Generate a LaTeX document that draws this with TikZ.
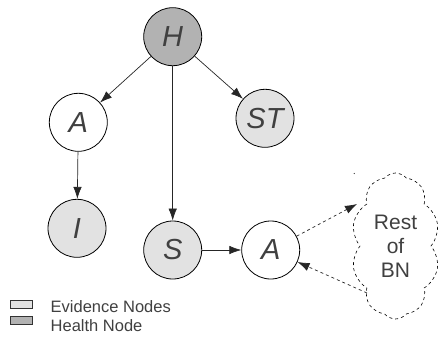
\documentclass[tikz,border=0pt]{standalone}
\usepackage{fontspec}
\setmainfont{Liberation Sans}
\usetikzlibrary{arrows.meta,shapes.symbols}
\definecolor{txt}{HTML}{404040}
\definecolor{evid}{HTML}{E2E2E2}
\definecolor{health}{HTML}{B2B2B2}
\begin{document}
\begin{tikzpicture}[x=1pt,y=-1pt,
  bn/.style={circle,draw=black,line width=0.8pt,minimum size=58pt,inner sep=0pt,
    font=\fontsize{29}{29}\selectfont\itshape,text=txt},
  evnode/.style={bn,fill=evid},
  hnode/.style={bn,fill=health},
  plainnode/.style={bn,fill=white},
  edge/.style={draw=black!85,line width=0.7pt,-{Latex[length=12pt,width=8.5pt]}},
  dedge/.style={edge,dashed},
  legbox/.style={draw=black!80,line width=0.6pt,minimum width=22pt,minimum height=7.5pt,inner sep=0pt},
  legtext/.style={anchor=west,inner sep=0pt,text=txt,font=\fontsize{16.5}{16.5}\selectfont},
  cloudnode/.style={cloud,cloud puffs=10,cloud puff arc=100,cloud ignores aspect,draw=black,dashed,line width=0.6pt,
    minimum width=88pt,minimum height=146pt,inner sep=0pt,align=center,text=txt,
    font=\fontsize{21}{24}\selectfont}]
\useasboundingbox (0,0) rectangle (438,337);
\node[hnode] (H) at (172.7,36.7) {H};
\node[plainnode] (A1) at (78.3,122.3) {A};
\node[evnode] (ST) at (265,118.3) {ST};
\node[evnode] (I) at (77,228.3) {I};
\node[evnode] (S) at (172.7,250) {S};
\node[plainnode] (A2) at (270.7,250) {A};
\node[cloudnode] (R) at (395.5,246) {Rest\\of\\BN};
\coordinate (dot) at (354.3,173.5);
\fill[black!80] (dot) circle (0.6pt);
\draw[edge] (H) -- (A1);
\draw[edge] (H) -- (ST);
\draw[edge] (H.south) -- (S.north);
\draw[edge] (A1) -- (I);
\draw[edge] (S) -- (A2);
\coordinate (c1) at (357,204);
\coordinate (c2) at (367,293);
\draw[dedge] (A2) -- (c1);
\draw[dedge] (c2) -- (A2);
\node[legbox,fill=evid] (L1) at (21,304.3) {};
\node[legbox,fill=health] (L2) at (21,320.3) {};
\node[legtext] (T1) at (50.5,307) {Evidence Nodes};
\node[legtext] (T2) at (50.5,326) {Health Node};
\end{tikzpicture}
\end{document}
